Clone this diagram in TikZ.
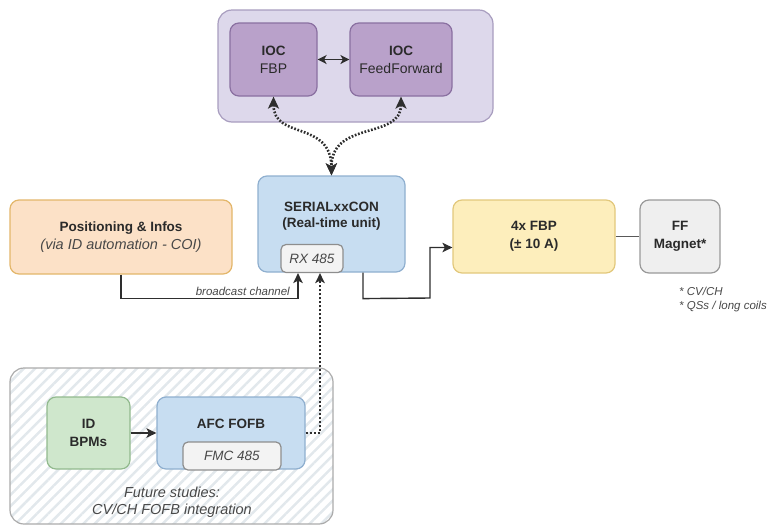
\documentclass[tikz,border=0pt]{standalone}
\usepackage{fontspec}
\setmainfont{Liberation Sans}
\usetikzlibrary{arrows.meta,patterns.meta}
\definecolor{grpTop}{HTML}{DDD8EB}
\definecolor{grpTopB}{HTML}{A89DBF}
\definecolor{iocF}{HTML}{B9A1CA}
\definecolor{iocB}{HTML}{8A70A1}
\definecolor{serF}{HTML}{C7DDF1}
\definecolor{serB}{HTML}{8FAFCF}
\definecolor{rxF}{HTML}{F3F3F3}
\definecolor{rxB}{HTML}{8E8E8E}
\definecolor{posF}{HTML}{FCE1C7}
\definecolor{posB}{HTML}{E3B66A}
\definecolor{fbpF}{HTML}{FDEEBC}
\definecolor{fbpB}{HTML}{E2C87C}
\definecolor{ffF}{HTML}{EFEFEF}
\definecolor{ffB}{HTML}{999999}
\definecolor{bpmF}{HTML}{CFE7CC}
\definecolor{bpmB}{HTML}{92BA8E}
\definecolor{stripe}{HTML}{E2E8EC}
\definecolor{grpB}{HTML}{ABABAB}
\definecolor{lineC}{HTML}{2E2E2E}
\definecolor{txtC}{HTML}{2A2A2A}
\definecolor{subC}{HTML}{484848}
\begin{document}
\begin{tikzpicture}[x=1pt,y=-1pt,
  box/.style={draw, rounded corners=9pt, line width=1.2pt, inner sep=0pt},
  inbox/.style={draw, rounded corners=5pt, line width=1.2pt, inner sep=0pt, fill=rxF, draw=rxB},
  ttl/.style={font=\fontsize{13.5}{18}\selectfont, align=center, text=txtC},
  conn/.style={draw=lineC, line width=1.4pt},
  tip/.style={-{Stealth[length=10pt,width=9.5pt,inset=2.5pt]}},
  dots/.style={draw=lineC, line width=2.6pt, dash pattern=on 1.7pt off 1.7pt},
  note/.style={font=\fontsize{11.5}{13}\selectfont\itshape, text=subC, inner sep=0pt}
]
\useasboundingbox (0,0) rectangle (771,528);
% top group
\node[box, rounded corners=14pt, fill=grpTop, draw=grpTopB, minimum width=275pt, minimum height=112pt] (topgrp) at (355.5,66) {};
\node[box, fill=iocF, draw=iocB, minimum width=87pt, minimum height=73pt, ttl] (iocfbp) at (273.5,59.5) {\textbf{IOC}\\\fontsize{14}{18}\selectfont FBP};
\node[box, fill=iocF, draw=iocB, minimum width=102pt, minimum height=73pt, ttl] (iocff) at (401,59.5) {\textbf{IOC}\\\fontsize{14}{18}\selectfont FeedForward};
\draw[conn, line width=1.8pt, {Stealth[length=9pt,width=9pt,inset=2.5pt]}-{Stealth[length=9pt,width=9pt,inset=2.5pt]}] (iocfbp.east) -- (iocff.west);
% serial
\node[box, fill=serF, draw=serB, minimum width=147pt, minimum height=96pt] (serial) at (331.5,224) {};
\node[ttl, inner sep=0pt] (sertxt) at (331.5,216) {\textbf{SERIALxxCON}\\[-1.5pt]\textbf{(Real-time unit)}};
\node[inbox, minimum width=62pt, minimum height=28pt, font=\fontsize{13.5}{15}\selectfont\itshape, text=subC] (rx) at (312,258.5) {RX 485};
% dotted curves
\draw[dots, {Stealth[length=12pt,width=11pt,inset=3pt]}-{Stealth[length=12pt,width=11pt,inset=3pt]}] (iocfbp.south) .. controls (273.5,140) and (331,120) .. (serial.north);
\draw[dots, {Stealth[length=12pt,width=11pt,inset=3pt]}-{Stealth[length=12pt,width=11pt,inset=3pt]}] (iocff.south) .. controls (401,140) and (331,120) .. (serial.north);
% positioning
\node[box, fill=posF, draw=posB, minimum width=222pt, minimum height=74pt, ttl] (pos) at (121,237) {\textbf{Positioning \& Infos}\\{\fontsize{14.5}{18}\selectfont\color{subC}\itshape(via ID automation - COI)}};
% FBP / FF
\node[box, fill=fbpF, draw=fbpB, minimum width=162pt, minimum height=73pt, ttl] (fbp) at (534,236.5) {\textbf{4x FBP}\\\textbf{(± 10 A)}};
\node[box, fill=ffF, draw=ffB, minimum width=80pt, minimum height=73pt, ttl] (ff) at (680,236.5) {\textbf{FF}\\\textbf{Magnet*}};
\draw[conn, line width=1.8pt, draw=black!65] (fbp.east) -- (ff.west);
\node[note, anchor=west] (n1) at (679,291) {* CV/CH};
\node[note, anchor=west] (n2) at (679,307) {* QSs / long coils};
% bottom group
\node[box, rounded corners=14pt, draw=grpB, fill=white, pattern={Lines[angle=45,distance=8pt,line width=2.5pt]}, pattern color=stripe, minimum width=323pt, minimum height=156pt] (botgrp) at (171.5,446) {};
\node[box, fill=bpmF, draw=bpmB, minimum width=83pt, minimum height=72pt, ttl] (bpm) at (88.5,433) {\textbf{ID}\\\textbf{BPMs}};
\node[box, fill=serF, draw=serB, minimum width=148pt, minimum height=72pt] (afc) at (231,433) {};
\node[ttl, inner sep=0pt] (afctxt) at (231,424) {\textbf{AFC FOFB}};
\node[inbox, minimum width=98pt, minimum height=28pt, font=\fontsize{13.5}{15}\selectfont\itshape, text=subC] (fmc) at (232,456) {FMC 485};
\node[ttl, inner sep=0pt, font=\fontsize{14.5}{17}\selectfont\itshape, text=subC] (future) at (172,502.5) {Future studies:\\CV/CH FOFB integration};
\draw[conn, tip] (bpm.east) -- (afc.west);
% connectors to RX
\draw[conn, tip] (pos.south) -- ++(0,24) -| ([xshift=-14pt]rx.south);
\node[note, anchor=south east] (bc) at (290,296) {broadcast channel};
\draw[draw=lineC, line width=1.8pt, dash pattern=on 2pt off 2pt, tip] (afc.east) -| ([xshift=8pt]rx.south);
% serial to FBP
\draw[conn, tip] ([xshift=31.5pt]serial.south) -- ++(0,26) -- (430,298) |- ([yshift=-11pt]fbp.west);
\end{tikzpicture}
\end{document}
